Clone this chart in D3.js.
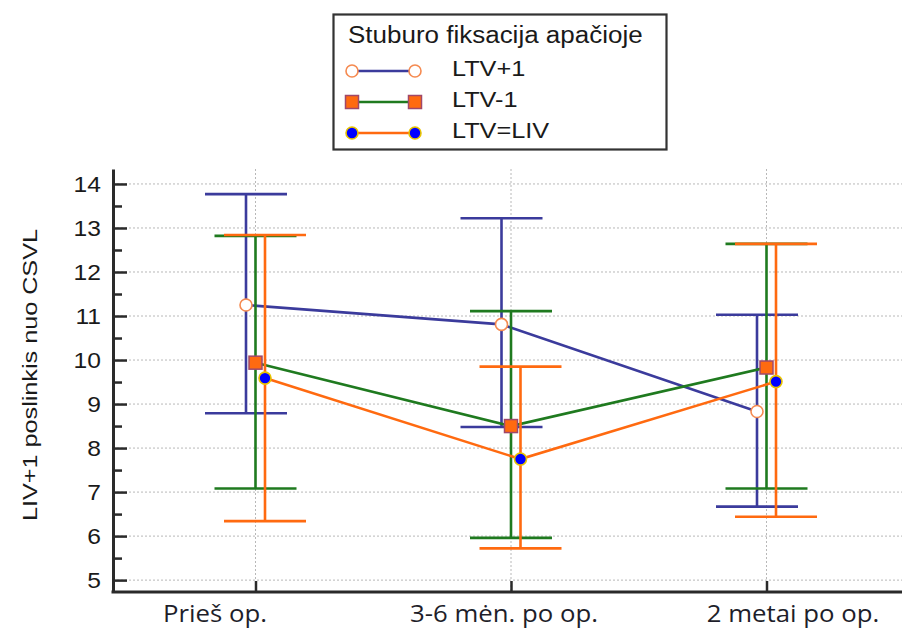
<!DOCTYPE html>
<html><head><meta charset="utf-8">
<script src="https://cdn.jsdelivr.net/npm/d3@7/dist/d3.min.js"></script>
<style>body{margin:0;background:#fff}</style>
</head><body>
<svg id="chart" width="902" height="630"></svg>
<script>
const categories = ["Prieš op.", "3-6 mėn. po op.", "2 metai po op."];
const seriesNames = ["LTV+1", "LTV-1", "LTV=LIV"];
const meanLTVplus1 = [11.25, 10.81, 8.83];
const upperLTVplus1 = [13.77, 13.22, 11.03];
const lowerLTVplus1 = [8.79, 8.48, 6.67];
const meanLTVminus1 = [9.94, 8.50, 9.83];
const upperLTVminus1 = [12.82, 11.11, 12.64];
const lowerLTVminus1 = [7.08, 5.96, 7.08];
const meanLTVeqLIV = [9.59, 7.75, 9.51];
const upperLTVeqLIV = [12.84, 9.85, 12.64];
const lowerLTVeqLIV = [6.34, 5.72, 6.44];
const yTicks = [5, 6, 7, 8, 9, 10, 11, 12, 13, 14];
const yMinorTicks = [5.5, 6.5, 7.5, 8.5, 9.5, 10.5, 11.5, 12.5, 13.5];
const legendTitle = "Stuburo fiksacija apačioje";
const yTitle = "LIV+1 poslinkis nuo CSVL";

const series = [
  {name: seriesNames[0], mean: meanLTVplus1, hi: upperLTVplus1, lo: lowerLTVplus1,
   line: "#3b3b9c", marker: "circle", fill: "#ffffff", mstroke: "#f58a50"},
  {name: seriesNames[1], mean: meanLTVminus1, hi: upperLTVminus1, lo: lowerLTVminus1,
   line: "#1f7a1f", marker: "square", fill: "#ff6a10", mstroke: "#a0486a"},
  {name: seriesNames[2], mean: meanLTVeqLIV, hi: upperLTVeqLIV, lo: lowerLTVeqLIV,
   line: "#ff6a10", marker: "circle", fill: "#0000ff", mstroke: "#e8c400"}
];

const svg = d3.select("#chart");
const AX = "#2a2a2a";
const x = d3.scalePoint().domain(categories).range([255.5, 766.5]);
const xLabel = d3.scalePoint().domain(categories).range([215, 793]);
const off = d3.scalePoint().domain(seriesNames).range([-9.5, 9.5]);
const y = d3.scaleLinear().domain([4.73, 14.34]).range([592, 169]);
const left = 113, right = 905;

// grid
const grid = svg.append("g").attr("stroke", "#b8b8b8").attr("stroke-width", 1).attr("stroke-dasharray", "2,2");
grid.selectAll(".h").data(yTicks).join("line")
  .attr("x1", left).attr("x2", right).attr("y1", d => y(d)).attr("y2", d => y(d));
grid.selectAll(".v").data(categories).join("line")
  .attr("x1", d => x(d)).attr("x2", d => x(d)).attr("y1", y.range()[1]).attr("y2", y.range()[0]);

// y axis
const yAxis = svg.append("g").attr("transform", `translate(${left},0)`)
  .call(d3.axisLeft(y).tickValues(yTicks).tickSizeInner(-14).tickSizeOuter(0).tickPadding(12));
yAxis.select(".domain").attr("stroke", AX).attr("stroke-width", 3);
yAxis.selectAll(".tick line").attr("stroke", AX).attr("stroke-width", 2.5);
yAxis.selectAll(".tick text").attr("x", 0).attr("transform", "translate(-12,0) scale(1.12,1)")
  .attr("font-family", "Liberation Sans, Arial, sans-serif").attr("font-size", 22).attr("fill", "#1a1a1a");
const yMinor = svg.append("g").attr("transform", `translate(${left},0)`)
  .call(d3.axisLeft(y).tickValues(yMinorTicks).tickSizeInner(-9).tickSizeOuter(0).tickFormat(""));
yMinor.select(".domain").remove();
yMinor.selectAll(".tick line").attr("stroke", AX).attr("stroke-width", 2.5);

// x axis
const xAxis = svg.append("g").attr("transform", `translate(0,${y.range()[0]})`)
  .call(d3.axisBottom(x).tickSizeInner(-11).tickSizeOuter(0).tickFormat(""));
xAxis.select(".domain").remove();
xAxis.selectAll(".tick line").attr("stroke", AX).attr("stroke-width", 2.5);
svg.append("line").attr("x1", left - 1.5).attr("x2", right).attr("y1", y.range()[0]).attr("y2", y.range()[0])
  .attr("stroke", AX).attr("stroke-width", 3);
svg.append("g").selectAll("text").data(categories).join("text")
  .attr("transform", d => `translate(${xLabel(d)},622) scale(1.12,1)`)
  .attr("text-anchor", "middle").attr("font-family", "Open Sans, sans-serif").attr("font-size", 23)
  .attr("fill", "#1e1e2a").text(d => d);

// y title
svg.append("text").attr("transform", "translate(37,375) rotate(-90) scale(1.2,1)")
  .attr("text-anchor", "middle").attr("font-family", "Liberation Sans, Arial, sans-serif")
  .attr("font-size", 21).attr("fill", "#1a1a1a").text(yTitle);

// series: error bars and lines
const capHalf = 41;
series.forEach(s => {
  const g = svg.append("g").attr("stroke", s.line).attr("stroke-width", 2.6).attr("fill", "none");
  const px = c => x(c) + off(s.name);
  g.selectAll(".eb").data(categories).join("line")
    .attr("x1", px).attr("x2", px).attr("y1", (c, i) => y(s.hi[i])).attr("y2", (c, i) => y(s.lo[i]));
  g.selectAll(".cap-hi").data(categories).join("line")
    .attr("x1", c => px(c) - capHalf).attr("x2", c => px(c) + capHalf)
    .attr("y1", (c, i) => y(s.hi[i])).attr("y2", (c, i) => y(s.hi[i]));
  g.selectAll(".cap-lo").data(categories).join("line")
    .attr("x1", c => px(c) - capHalf).attr("x2", c => px(c) + capHalf)
    .attr("y1", (c, i) => y(s.lo[i])).attr("y2", (c, i) => y(s.lo[i]));
  g.append("path").datum(categories)
    .attr("d", d3.line().x(px).y((c, i) => y(s.mean[i])));
});

function drawMarker(g, s, cx, cy) {
  if (s.marker === "square") {
    g.append("rect").attr("x", cx - 6.5).attr("y", cy - 6.5).attr("width", 13).attr("height", 13)
      .attr("fill", s.fill).attr("stroke", s.mstroke).attr("stroke-width", 1.5);
  } else {
    g.append("circle").attr("cx", cx).attr("cy", cy).attr("r", 6)
      .attr("fill", s.fill).attr("stroke", s.mstroke).attr("stroke-width", 1.6);
  }
}
series.forEach(s => {
  const g = svg.append("g");
  categories.forEach((c, i) => drawMarker(g, s, x(c) + off(s.name), y(s.mean[i])));
});

// legend
const lg = svg.append("g");
lg.append("rect").attr("x", 333.5).attr("y", 14.5).attr("width", 333).attr("height", 135)
  .attr("fill", "#fff").attr("stroke", "#333").attr("stroke-width", 2.2);
lg.append("text").attr("transform", "translate(348,43) scale(1.13,1)")
  .attr("font-family", "Liberation Sans, Arial, sans-serif").attr("font-size", 23).attr("fill", "#1a1a1a")
  .text(legendTitle);
const ly = d3.scalePoint().domain(seriesNames).range([71, 133]);
series.forEach(s => {
  const yy = ly(s.name);
  lg.append("line").attr("x1", 352).attr("x2", 415).attr("y1", yy).attr("y2", yy)
    .attr("stroke", s.line).attr("stroke-width", 2.6);
  drawMarker(lg, s, 352, yy);
  drawMarker(lg, s, 415, yy);
  lg.append("text").attr("transform", `translate(452,${yy + 5}) scale(1.15,1)`)
    .attr("font-family", "Liberation Sans, Arial, sans-serif").attr("font-size", 22).attr("fill", "#1a1a1a")
    .text(s.name);
});
</script>
</body></html>
